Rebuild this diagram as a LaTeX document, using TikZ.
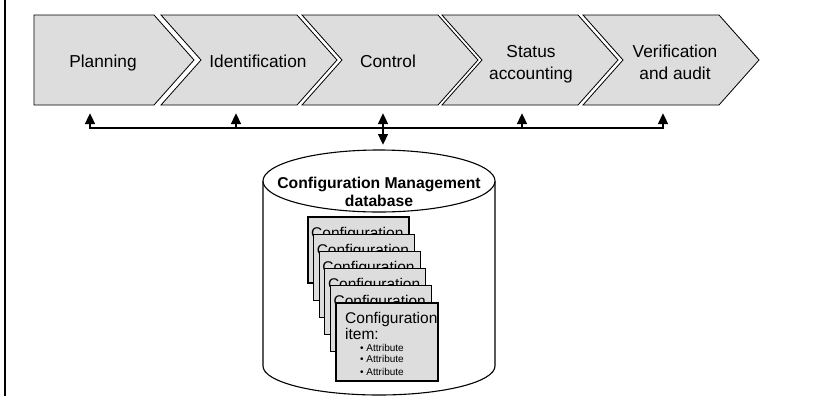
\documentclass[tikz,border=0pt]{standalone}
\usepackage{fontspec}
\setmainfont{Liberation Sans}
\usetikzlibrary{arrows.meta}
\definecolor{boxgray}{RGB}{221,221,221}

\tikzset{
    >={Triangle[width=9.5bp,length=11bp]},
    stage/.style={fill=boxgray, draw=black, line width=0.8bp},
    stagelabel/.style={font=\fontsize{17.3bp}{22bp}\selectfont, align=center},
    link/.style={line width=2.7bp},
    card/.style={fill=boxgray, draw=black, line width=1.2bp},
    cardlabel/.style={font=\fontsize{15.5bp}{16bp}\selectfont, inner sep=0pt},
    attrlabel/.style={font=\fontsize{10bp}{12bp}\selectfont, inner sep=0pt},
    dblabel/.style={font=\bfseries\fontsize{15.7bp}{18bp}\selectfont, align=center},
}

\begin{document}
\begin{tikzpicture}[x=1bp, y=-1bp]
    \useasboundingbox (0,0) rectangle (815,396);
    % Margin line
    \draw[line width=1.2bp] (5,0) -- (5,396);

    % Process stages
    \draw[stage] (34,15) -- (154,15) -- (194,60) -- (154,105) -- (34,105) -- cycle;
    \foreach \l in {161,302,442,583}
        \draw[stage] (\l,15) -- (\l+136,15) -- (\l+176,60) -- (\l+136,105) -- (\l,105) -- (\l+40,60) -- cycle;
    \node[stagelabel, anchor=base] (planning) at (103,67) {Planning};
    \node[stagelabel, anchor=base] (identification) at (258,67) {Identification};
    \node[stagelabel, anchor=base] (control) at (388,67) {Control};
    \node[stagelabel] (status) at (531,64) {Status\\accounting};
    \node[stagelabel] (verification) at (675,62) {Verification\\and audit};

    % Links to the database
    \coordinate (planning-in) at (90,113);
    \coordinate (identification-in) at (236,113);
    \coordinate (control-in) at (383,113);
    \coordinate (status-in) at (522,113);
    \coordinate (verification-in) at (663,113);
    \coordinate (bus) at (90,128);
    \coordinate (db-in) at (383,145);
    \draw[link, <->] (planning-in) -- (bus) -- (verification-in |- bus) -- (verification-in);
    \draw[link, ->] (identification-in |- bus) -- (identification-in);
    \draw[link, ->] (status-in |- bus) -- (status-in);
    \draw[link, <->] (control-in) -- (db-in);

    % Database
    \filldraw[fill=white, line width=1.1bp] (263,181) -- (263,366) arc[start angle=180, end angle=0, x radius=116, y radius=29] -- (495,181);
    \filldraw[fill=white, line width=1.1bp] (379,181) ellipse[x radius=116, y radius=31];
    \node[dblabel] (cmdb) at (379,192) {Configuration Management\\database};

    % Configuration items
    \foreach \i in {0,...,4} {
        \draw[card] (308+5.6*\i,217+17.2*\i) rectangle ++(101,66);
        \node[cardlabel, anchor=base west] (back\i) at (311+5.6*\i,238+17.2*\i) {Configuration};
    }
    \draw[card] (336,303) rectangle ++(102,78);
    \node[cardlabel, anchor=base west] (item-name) at (345,323) {Configuration};
    \node[cardlabel, anchor=base west] (item-kind) at (345,339) {item:};
    \node[attrlabel, anchor=base west] (attr1) at (360,351) {• Attribute};
    \node[attrlabel, anchor=base west] (attr2) at (360,362) {• Attribute};
    \node[attrlabel, anchor=base west] (attr3) at (360,375) {• Attribute};

\end{tikzpicture}
\end{document}
